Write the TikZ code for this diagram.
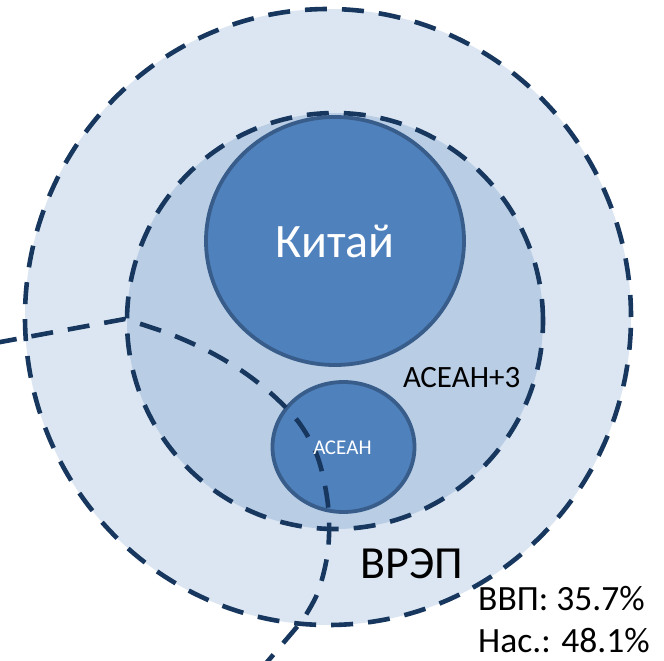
\documentclass[tikz,border=0pt]{standalone}
\usepackage{fontspec}
\setmainfont{Carlito}
\definecolor{outerfill}{RGB}{220,230,242}
\definecolor{innerfill}{RGB}{185,205,229}
\definecolor{circfill}{RGB}{79,129,189}
\definecolor{circline}{RGB}{56,93,138}
\definecolor{dashcol}{RGB}{23,55,94}
\tikzset{
  dashline/.style={draw=dashcol, line width=4.6pt, dash pattern=on 22pt off 15pt},
  country/.style={fill=circfill, draw=circline, line width=3.8pt},
  lbl/.style={inner sep=0pt, anchor=base}
}
\begin{document}
\begin{tikzpicture}[x=1pt,y=-1pt]
\useasboundingbox[fill=white] (0,0) rectangle (664,661);
% fills
\fill[outerfill] (328,317) ellipse [x radius=303pt, y radius=308pt];
\fill[innerfill] (335,321) circle [radius=208pt];
% countries
\draw[country] (335,241) ellipse [x radius=129pt, y radius=124pt];
\draw[country] (343.5,447) ellipse [x radius=71pt, y radius=65pt];
% dashed borders
\draw[dashline] (328,317) ellipse [x radius=303pt, y radius=308pt];
\draw[dashline] (335,321) circle [radius=208pt];
\draw[dashline] (-5,343) -- plot[smooth, tension=0.55] coordinates {(125,319) (170,334) (210,352) (245,373) (275,397) (300,424) (318,458) (328,505) (328,550) (318,592) (302,621)} -- (262,668);
% labels
\node[lbl, font=\fontsize{48}{48}\selectfont, text=white] (china) at (335,257) {Китай};
\node[lbl, font=\fontsize{21}{21}\selectfont, text=white] (asean) at (342.5,454) {АСЕАН};
\node[lbl, anchor=base west, font=\fontsize{31}{31}\selectfont] (asean3) at (403,387) {АСЕАН+3};
\node[lbl, anchor=base west, font=\fontsize{46}{46}\selectfont] (rcep) at (360,578) {ВРЭП};
\node[lbl, anchor=base west, font=\fontsize{35.5}{35.5}\selectfont] (gdp) at (478,610) {ВВП: 35.7\%};
\node[lbl, anchor=base west, font=\fontsize{35.5}{35.5}\selectfont] (pop) at (478,652) {Нас.: 48.1\%};
\end{tikzpicture}
\end{document}
